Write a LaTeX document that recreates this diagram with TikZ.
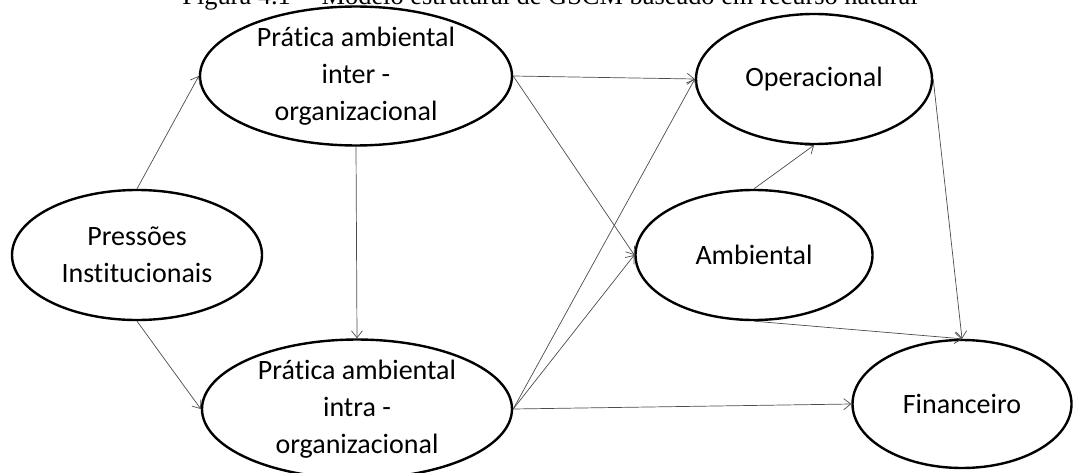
\documentclass[tikz,border=0pt]{standalone}
\usepackage{fontspec}
\setmainfont{Carlito}[Ligatures=NoCommon]
\newfontfamily\capfont{Liberation Serif}
\usetikzlibrary{arrows.meta,shapes.geometric}

\begin{document}
\begin{tikzpicture}[x=1pt,y=-1pt,
  construct/.style={ellipse, draw=black, line width=2.4pt, inner sep=0pt,
    align=center, font=\fontsize{28}{37}\selectfont},
  link/.style={draw=black!70, line width=0.7pt,
    -{Straight Barb[length=7pt,width=11pt]}}
]
\useasboundingbox (0,0) rectangle (1075,473);

% caption (only its lower part falls on the page)
\node[font=\capfont\fontsize{26.4}{28}\selectfont, anchor=base, inner sep=0pt]
  (cap) at (550,5) {Figura 4.1 -- Modelo estrutural de GSCM baseado em recurso natural};

% constructs
\node[construct, minimum width=250pt, minimum height=130pt] (press) at (137,255)
  {Pressões\\Institucionais};
\node[construct, minimum width=312pt, minimum height=134pt] (inter) at (356,76)
  {Prática ambiental\\inter -\\organizacional};
\node[construct, minimum width=310pt, minimum height=128pt] (intra) at (357,409)
  {Prática ambiental\\intra -\\organizacional};
\node[construct, minimum width=236pt, minimum height=130pt] (oper) at (814,79)
  {Operacional};
\node[construct, minimum width=237pt, minimum height=130pt] (amb) at (754,255)
  {Ambiental};
\node[construct, minimum width=219pt, minimum height=128pt] (fin) at (962,404)
  {Financeiro};

% paths
\draw[link] (press.north) -- (inter.west);
\draw[link] (press.south) -- (intra.west);
\draw[link] (inter.south) -- (intra.north);
\draw[link] (inter.east) -- (oper.west);
\draw[link] (inter.east) -- (amb.west);
\draw[link] (intra.east) -- (oper.west);
\draw[link] (intra.east) -- (amb.west);
\draw[link] (intra.east) -- (fin.west);
\draw[link] (amb.north) -- (oper.south);
\draw[link] (oper.east) -- (fin.north);
\draw[link] (amb.south) -- (fin.north);
\end{tikzpicture}
\end{document}
